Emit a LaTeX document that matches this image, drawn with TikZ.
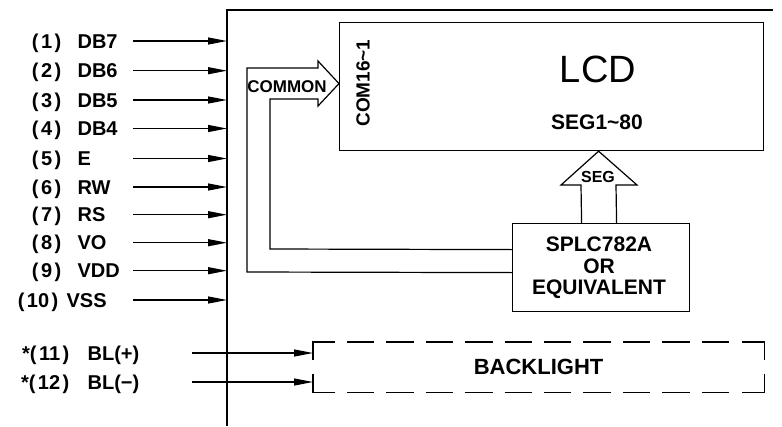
\documentclass[tikz,border=0pt]{standalone}
\usepackage{fontspec}
\setmainfont{Liberation Sans}
\usetikzlibrary{arrows.meta}
\newcommand\pnum[1]{(\kern2.5pt#1\kern2.5pt)}
\begin{document}
\begin{tikzpicture}[x=1pt,y=-1pt,
  line width=1.2pt, line join=miter,
  pin/.style={-{Triangle[length=19pt,width=7pt]}},
  lbl/.style={inner sep=0pt, font=\bfseries\fontsize{20}{20}\selectfont},
  boxed/.style={draw, inner sep=0pt, anchor=north west},
  small/.style={inner sep=0pt, font=\bfseries\fontsize{17}{17}\selectfont},
  bldash/.style={dash pattern=on 27.4pt off 12pt}]
\useasboundingbox (0,0) rectangle (782,426);

% outer frame
\coordinate (ftl) at (227,10);
\coordinate (fbl) at (227,426);
\coordinate (ftr) at (773,10);
\draw (fbl) -- (ftl) -- (ftr);

% pins 1..9
\foreach \i/\nm/\y in {1/DB7/41,2/DB6/70.7,3/DB5/100,4/DB4/128.5,5/E/158.5,6/RW/187,7/RS/214.7,8/VO/242.7,9/VDD/270.7}{
  \node[lbl, anchor=base east] (num\i) at (62,\y+7) {\pnum{\i}};
  \node[lbl, anchor=base west] (pin\i) at (77,\y+7) {\nm};
  \coordinate (s\i) at (133,\y);
  \coordinate (f\i) at (227,\y);
  \draw[pin] (s\i) -- (f\i);
}
% pin 10
\node[lbl, anchor=base east] (num10) at (59,307) {\pnum{10}};
\node[lbl, anchor=base west] (pin10) at (66,307) {VSS};
\coordinate (s10) at (133,300);
\coordinate (f10) at (227,300);
\draw[pin] (s10) -- (f10);

% LCD
\node[boxed, minimum width=424pt, minimum height=128pt] (lcd) at (339,22) {};
\node[inner sep=0pt, font=\fontsize{38}{38}\selectfont] (lcdt) at (598,69) {LCD};
\node[inner sep=0pt, font=\bfseries\fontsize{21}{21}\selectfont] (segl) at (597,122.5) {SEG1\textasciitilde80};
\node[inner sep=0pt, rotate=90, font=\bfseries\fontsize{19}{19}\selectfont] (coml) at (363,83) {COM16\textasciitilde1};

% controller
\node[boxed, minimum width=177pt, minimum height=88pt] (splc) at (512,223) {};
\node[inner sep=0pt, align=center, font=\bfseries\fontsize{21}{21.5}\selectfont] (splct) at (599,268) {SPLC782A\\OR\\EQUIVALENT};

% COMMON arrow
\draw ([yshift=-5pt]splc.west) -- (247,272) -- (247,68) -- (318,68) -- (318,61)
      -- ([yshift=3pt]lcd.west) -- (318,106) -- (318,99) -- (270,99) -- (270,249)
      -- ([yshift=18pt]splc.west);
\node[small] (comt) at (287,87) {COMMON};

% SEG arrow
\draw ([xshift=-19.5pt]splc.north) -- (581,185) -- (561,185) -- ([xshift=47pt]lcd.south)
      -- (637,185) -- (616,185) -- ([xshift=15.5pt]splc.north);
\node[small, font=\bfseries\fontsize{16}{16}\selectfont] (segt) at (598,177) {SEG};

% backlight
\node[inner sep=0pt, anchor=north west, minimum width=450pt, minimum height=49pt,
      font=\bfseries\fontsize{22}{22}\selectfont] (bl) at (313,342) {BACKLIGHT};
\draw (bl.north west) ++(0,18) -- ++(0,-18) -- ++(22,0);
\draw (bl.south west) ++(0,-18) -- ++(0,18) -- ++(22,0);
\draw (bl.north east) ++(0,18) -- ++(0,-18) -- ++(-22,0);
\draw (bl.south east) ++(0,-18) -- ++(0,18) -- ++(-22,0);
\draw[bldash] ([xshift=34pt]bl.north west) -- ([xshift=-34pt]bl.north east);
\draw[bldash] ([xshift=34pt]bl.south west) -- ([xshift=-34pt]bl.south east);

% pins 11, 12
\node[lbl, anchor=base east] (num11) at (70,360) {*\pnum{11}};
\node[lbl, anchor=base west] (pin11) at (87,360) {BL(+)};
\node[lbl, anchor=base east] (num12) at (70,389) {*\pnum{12}};
\node[lbl, anchor=base west] (pin12) at (87,389) {BL(−)};
\coordinate (s11) at (192,353);
\coordinate (s12) at (192,382);
\draw[pin] (s11) -- (bl.west |- s11);
\draw[pin] (s12) -- (bl.west |- s12);
\end{tikzpicture}
\end{document}
